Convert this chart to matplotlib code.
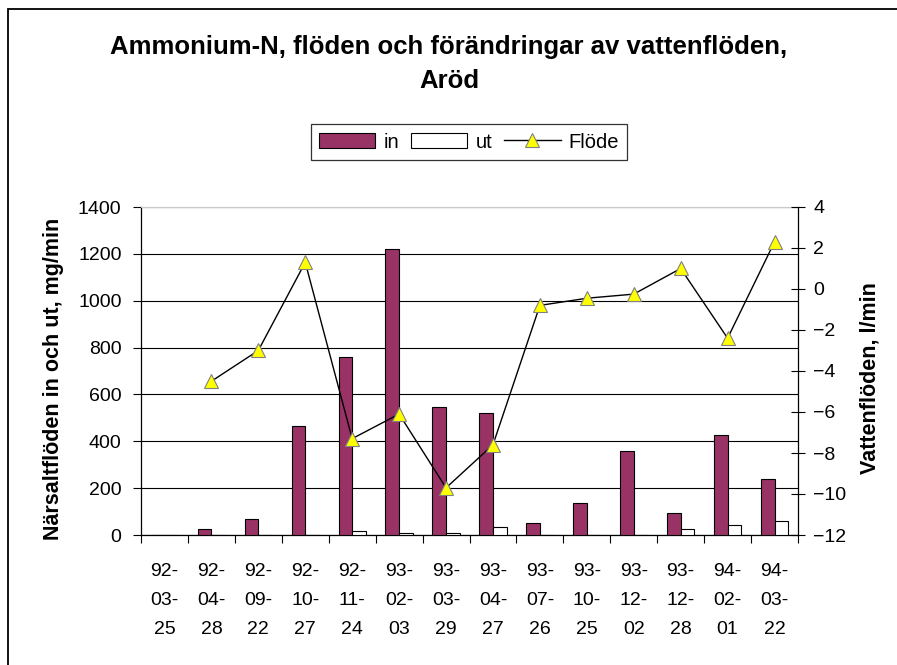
import numpy as np
import matplotlib
matplotlib.use("Agg")
import matplotlib.pyplot as plt
from matplotlib.patches import Rectangle

plt.rcParams['font.family'] = ['Liberation Sans', 'DejaVu Sans']

# data
dates = ['92-03-25', '92-04-28', '92-09-22', '92-10-27', '92-11-24', '93-02-03', '93-03-29',
         '93-04-27', '93-07-26', '93-10-25', '93-12-02', '93-12-28', '94-02-01', '94-03-22']
nh4_in = [0, 25, 70, 466, 758, 1219, 545, 519, 50, 135, 358, 93, 425, 238]
nh4_ut = [0, 0, 0, 0, 16, 7, 7, 33, 0, 0, 0, 24, 41, 58]
flode = [np.nan, -4.5, -3.0, 1.3, -7.3, -6.1, -9.7, -7.6, -0.8, -0.45, -0.25, 1.0, -2.4, 2.3]

title = 'Ammonium-N, flöden och förändringar av vattenflöden,\nAröd'
left_label = 'Närsaltflöden in och ut, mg/min'
right_label = 'Vattenflöden, l/min'

W, H = 897, 665
fig = plt.figure(figsize=(W / 100, H / 100), dpi=100)

# chart border (cropped on right/bottom in the original)
fig.patches.append(Rectangle((8 / W, -0.05), 1.2, 1 - 9 / H + 0.05, transform=fig.transFigure,
                             fill=False, edgecolor='black', lw=1.3))

ax = fig.add_axes([141 / W, 1 - 535 / H, (798 - 141) / W, (535 - 207) / H])
x = np.arange(len(dates))
w = 0.29
b1 = ax.bar(x - w / 2, nh4_in, w, color='#993366', edgecolor='black', lw=0.8, label='in', zorder=3)
b2 = ax.bar(x + w / 2, nh4_ut, w, color='white', edgecolor='black', lw=0.8, label='ut', zorder=3)

ax.set_xlim(-0.5, len(dates) - 0.5)
ax.set_ylim(0, 1400)
ax.set_yticks(range(0, 1401, 200))
ax.yaxis.grid(True, color='black', lw=0.8, zorder=0)
ax.set_axisbelow(True)
ax.tick_params(axis='y', direction='out', length=6, width=0.8, labelsize=14, pad=8)

ax.set_xticks(x)
ax.set_xticklabels([d.replace('-', '-\n') for d in dates], linespacing=1.95)
ax.set_xticks(np.arange(-0.5, len(dates), 1), minor=True)
ax.tick_params(axis='x', which='major', length=0, labelsize=14, pad=20)
ax.tick_params(axis='x', which='minor', direction='out', length=6, width=0.8)

for s in ['left', 'bottom']:
    ax.spines[s].set_linewidth(0.9)
ax.spines['top'].set_color('#c8c8c8')
ax.spines['right'].set_visible(False)

ax2 = ax.twinx()
ln, = ax2.plot(x, flode, color='black', lw=1, marker='^', markersize=10,
               markerfacecolor='#ffff00', markeredgecolor='#808080', markeredgewidth=0.8,
               label='Flöde', zorder=4)
ax2.set_ylim(-12, 4)
ax2.set_yticks(range(-12, 5, 2))
ax2.tick_params(axis='y', direction='inout', length=10, width=0.8, labelsize=14, pad=6)
ax2.spines['right'].set_linewidth(0.9)
for s in ['top', 'left', 'bottom']:
    ax2.spines[s].set_visible(False)

fig.text(449 / W, 1 - 64 / H, title, ha='center', va='center', fontsize=18.5,
         fontweight='bold', linespacing=1.5)
fig.text(53 / W, 1 - 379 / H, left_label, rotation=90, ha='center', va='center',
         fontsize=15.5, fontweight='bold')
fig.text(870 / W, 1 - 378 / H, right_label, rotation=90, ha='center', va='center',
         fontsize=15.5, fontweight='bold')

leg = fig.legend([b1, b2, ln], ['in', 'ut', 'Flöde'], ncol=3, loc='center',
                 bbox_to_anchor=(469 / W, 1 - 142 / H), fontsize=14.5, frameon=True,
                 fancybox=False, edgecolor='black', handlelength=2.8, handletextpad=0.4,
                 columnspacing=0.6, borderpad=0.4)
leg.get_frame().set_linewidth(0.9)

fig.savefig('out.png', dpi=100)
